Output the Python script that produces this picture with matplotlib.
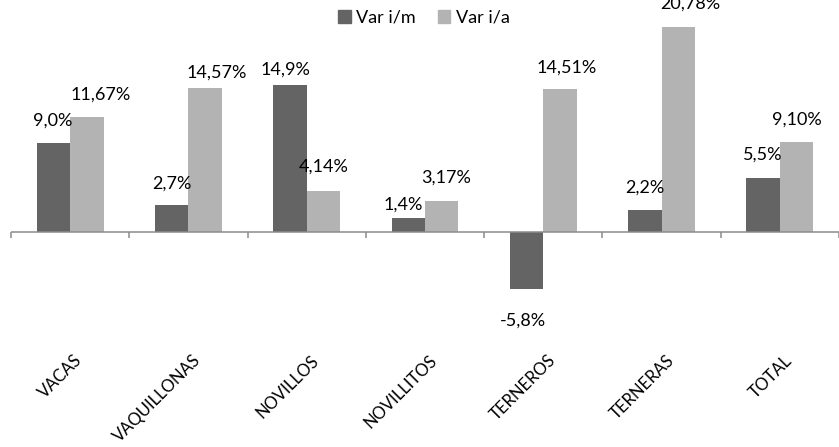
import numpy as np
import matplotlib
matplotlib.use("Agg")
from matplotlib import pyplot as plt
from matplotlib.patches import Patch
import matplotlib.transforms as mtransforms

# data
categorias = ["VACAS", "VAQUILLONAS", "NOVILLOS", "NOVILLITOS", "TERNEROS", "TERNERAS", "TOTAL"]
var_im = [9.0, 2.7, 14.9, 1.4, -5.8, 2.2, 5.5]
var_ia = [11.67, 14.57, 4.14, 3.17, 14.51, 20.78, 9.10]
etiq_im = ["9,0%", "2,7%", "14,9%", "1,4%", "-5,8%", "2,2%", "5,5%"]
etiq_ia = ["11,67%", "14,57%", "4,14%", "3,17%", "14,51%", "20,78%", "9,10%"]

# label nudges in pixels (dx, gap above bar)
nudge_im = [(-1, 17), (0, 17), (-5, 10), (-5, 9), (-4, -23), (0, 18), (0, 18)]
nudge_ia = [(14, 17), (12, 10), (0, 19), (4, 18), (7, 16), (12, 18), (0, 17)]

OSCURO = "#646464"
CLARO = "#b3b3b3"
plt.rcParams["font.family"] = ["Lato", "DejaVu Sans"]

W, H = 839, 447
fig = plt.figure(figsize=(W / 100, H / 100), dpi=100)
ax_bottom = 348
ax = fig.add_axes([11 / W, (H - ax_bottom) / H, 828 / W, ax_bottom / H])

px_per_pct = 9.88
ax.set_ylim(-(ax_bottom - 232) / px_per_pct, 232 / px_per_pct)
ax.set_xlim(-0.5, len(categorias) - 0.5)

x = np.arange(len(categorias))
bw = 0.283
b1 = ax.bar(x - bw / 2, var_im, bw, color=OSCURO, zorder=2)
b2 = ax.bar(x + bw / 2, var_ia, bw, color=CLARO, zorder=2)

def etiquetar(barras, textos, nudges):
    for rect, txt, (dx, gap) in zip(barras, textos, nudges):
        h = rect.get_height()
        cx = rect.get_x() + rect.get_width() / 2
        va = "baseline" if h >= 0 else "top"
        ax.annotate(txt, (cx, h), xytext=(dx, gap), textcoords="offset pixels",
                    ha="center", va=va, fontsize=13, color="#000000",
                    annotation_clip=False)

etiquetar(b1, etiq_im, nudge_im)
etiquetar(b2, etiq_ia, nudge_ia)

# zero line with boundary tick marks
ax.axhline(0, color="#8c8c8c", lw=1.1, zorder=3)
bordes = np.arange(len(categorias) + 1) - 0.5
ax.vlines(bordes, -0.6, 0, color="#8c8c8c", lw=1.1, zorder=3, clip_on=False)

for s in ax.spines.values():
    s.set_visible(False)
ax.set_yticks([])
ax.set_xticks(x)
ax.set_xticklabels(categorias, rotation=45, ha="right", rotation_mode="anchor", fontsize=12)
ax.tick_params(axis="x", length=0, pad=3)
offset = mtransforms.ScaledTranslation(4 / 100, 0, fig.dpi_scale_trans)
for lab in ax.get_xticklabels():
    lab.set_transform(lab.get_transform() + offset)

handles = [Patch(color=OSCURO, label="Var i/m"), Patch(color=CLARO, label="Var i/a")]
fig.legend(handles=handles, loc="upper center", bbox_to_anchor=(424 / W, 1.015), ncol=2,
           frameon=False, fontsize=13, handlelength=0.7, handleheight=0.7,
           handletextpad=0.3, columnspacing=1.2)

fig.savefig("out.png", dpi=100)
